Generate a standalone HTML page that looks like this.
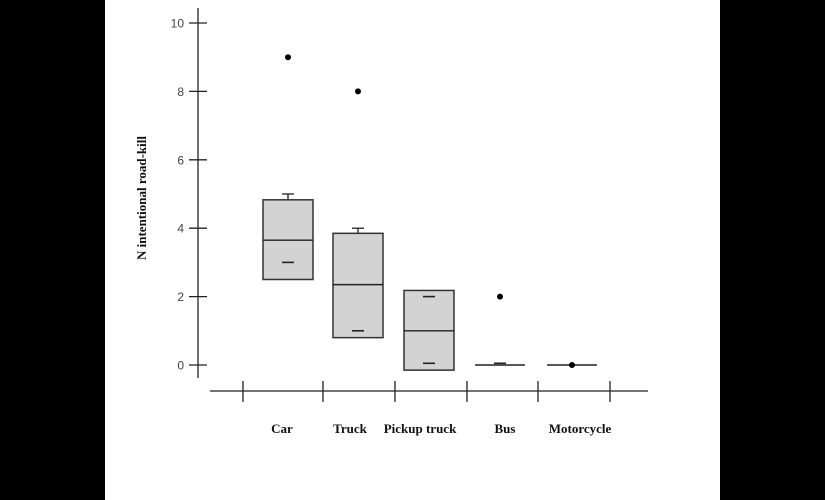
<!DOCTYPE html>
<html><head><meta charset="utf-8"><style>
body{margin:0;background:#000;}
svg{display:block}
</style></head><body>
<svg width="825" height="500" xmlns="http://www.w3.org/2000/svg">
<rect x="105" y="0" width="615" height="500" fill="#fff"/>
<g id="plot"></g>
<text transform="translate(146,198) rotate(-90)" text-anchor="middle" font-family="Liberation Serif, serif" font-weight="bold" font-size="13" fill="#111">N intentional road-kill</text>
</svg>
<script>
const categories=["Car","Truck","Pickup truck","Bus","Motorcycle"];
const q1=[2.5,0.8,-0.15,0,0];
const q3=[4.83,3.85,2.18,0,0];
const medians=[3.65,2.35,1.0,0,0];
const whiskerTop=[5,4,null,null,null];
const meanDash=[[3],[1],[2,0.05],[0.05],[]];
const outliers=[[9],[8],[],[2],[0]];
const yTicks=[0,2,4,6,8,10];
const centers=[288,358,429,500,572];
const labelX=[282,350,420,505,580];
const NS="http://www.w3.org/2000/svg";
const g=document.getElementById('plot');
const y=v=>365-34.2*v;
function el(t,a,name){const e=document.createElementNS(NS,t);for(const k in a)e.setAttribute(k,a[k]);


g.appendChild(e);return e;}
el('line',{x1:198,y1:8,x2:198,y2:378,stroke:'#222','stroke-width':1.3},'y-axis-line');
yTicks.forEach(t=>{el('line',{x1:189,x2:207,y1:y(t),y2:y(t),stroke:'#222','stroke-width':1.3},'y-tick');
const tx=el('text',{x:184,y:y(t)+4.5,'text-anchor':'end','font-family':'Liberation Sans, sans-serif','font-size':12,fill:'#444'},'y-tick-label');tx.textContent=t;});
el('line',{x1:210,y1:391,x2:648,y2:391,stroke:'#222','stroke-width':1.3},'x-axis-line');
[243,323,395,467,538,610].forEach(x=>el('line',{x1:x,x2:x,y1:381,y2:402,stroke:'#222','stroke-width':1.3},'x-tick'));
const hw=25;
categories.forEach((c,i)=>{const cx=centers[i];
if(whiskerTop[i]!==null){el('line',{x1:cx,x2:cx,y1:y(q3[i]),y2:y(whiskerTop[i]),stroke:'#222','stroke-width':1.3},'whisker');
el('line',{x1:cx-6,x2:cx+6,y1:y(whiskerTop[i]),y2:y(whiskerTop[i]),stroke:'#222','stroke-width':1.3},'whisker-cap');}
if(q3[i]>q1[i]){el('rect',{x:cx-hw,y:y(q3[i]),width:2*hw,height:y(q1[i])-y(q3[i]),fill:'#d3d3d3',stroke:'#333','stroke-width':1.5},'box-'+c.toLowerCase().replace(' ','-'));}
el('line',{x1:cx-hw,x2:cx+hw,y1:y(medians[i]),y2:y(medians[i]),stroke:'#222','stroke-width':1.4},'median-line');
meanDash[i].forEach(v=>el('line',{x1:cx-6,x2:cx+6,y1:y(v),y2:y(v),stroke:'#222','stroke-width':1.6},'mean-dash'));
outliers[i].forEach(v=>el('circle',{cx:cx,cy:y(v),r:3,fill:'#000'},'outlier-point'));
const tx=el('text',{x:labelX[i],y:433,'text-anchor':'middle','font-family':'Liberation Serif, serif','font-weight':'bold','font-size':13,fill:'#111'},'x-category-label');tx.textContent=c;});
</script>
</body></html>
